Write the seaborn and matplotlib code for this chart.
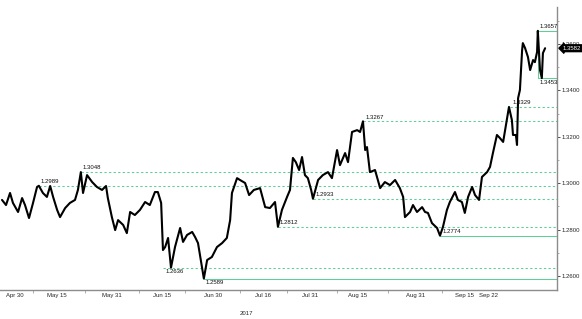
import numpy as np
import pandas as pd
import matplotlib
matplotlib.use("Agg")
import matplotlib.pyplot as plt
import seaborn as sns

# ---- data (x in days from series start) ----
day = [0.0, 1.1, 2.2, 3.0, 4.4, 5.5, 6.3, 7.4, 8.5, 9.6, 10.1, 11.2, 12.3, 13.2, 14.0,
       15.1, 15.9, 17.3, 18.6, 20.0, 20.8, 21.6, 22.2, 23.3, 24.7, 26.0, 27.4, 28.5, 29.0,
       30.1, 31.0, 31.8, 33.2, 34.2, 35.1, 36.4, 37.8, 39.2, 40.5, 41.9, 42.7, 43.6, 44.1,
       44.7, 45.5, 46.3, 47.4, 48.8, 49.6, 50.7, 52.1, 52.9, 53.7, 54.8, 55.3, 56.2, 57.5,
       58.9, 60.3, 61.6, 62.5, 63.0, 64.4, 65.2, 66.6, 67.7, 69.0, 70.7, 72.1, 73.4, 74.8,
       75.6, 76.7, 78.1, 78.9, 79.7, 80.5, 81.4, 82.2, 83.0, 83.8, 84.7, 85.2, 86.6, 87.9,
       89.3, 90.4, 91.8, 92.6, 94.0, 94.8, 95.9, 97.3, 98.1, 98.9, 99.5, 100.0, 100.8,
       102.2, 103.6, 104.9, 106.3, 107.7, 109.0, 109.9, 110.4, 111.8, 112.6, 113.7, 115.1,
       115.9, 116.7, 117.8, 119.2, 120.0, 120.8, 121.9, 122.7, 124.1, 124.9, 126.0, 126.8,
       127.7, 128.8, 129.6, 130.7, 131.5, 132.9, 133.7, 134.5, 135.6, 136.4, 137.3, 138.4,
       138.9, 139.7, 140.0, 140.8, 141.1, 141.4, 141.9, 142.5, 142.7, 143.3, 144.1, 144.7,
       145.5, 146.0, 146.6, 146.8, 147.4, 147.9, 148.2, 148.8]
price = [1.2928, 1.2906, 1.2958, 1.2915, 1.2876, 1.2936, 1.2906, 1.2850, 1.2915, 1.2984,
         1.2989, 1.2958, 1.2941, 1.2988, 1.2941, 1.2885, 1.2854, 1.2893, 1.2915, 1.2928,
         1.2971, 1.3048, 1.2958, 1.3035, 1.3005, 1.2984, 1.2971, 1.2988, 1.2936, 1.2854,
         1.2798, 1.2841, 1.2820, 1.2785, 1.2876, 1.2863, 1.2885, 1.2919, 1.2906, 1.2962,
         1.2962, 1.2915, 1.2712, 1.2725, 1.2764, 1.2636, 1.2725, 1.2807, 1.2747, 1.2777,
         1.2790, 1.2768, 1.2742, 1.2635, 1.2589, 1.2669, 1.2682, 1.2725, 1.2742, 1.2764,
         1.2841, 1.2958, 1.3022, 1.3014, 1.3001, 1.2949, 1.2971, 1.2979, 1.2897, 1.2893,
         1.2919, 1.2812, 1.2885, 1.2941, 1.2971, 1.3109, 1.3091, 1.3057, 1.3113, 1.3035,
         1.3022, 1.2971, 1.2933, 1.3014, 1.3035, 1.3048, 1.3022, 1.3143, 1.3078, 1.3130,
         1.3091, 1.3221, 1.3229, 1.3221, 1.3267, 1.3143, 1.3156, 1.3048, 1.3057, 1.2979,
         1.3005, 1.2992, 1.3014, 1.2979, 1.2941, 1.2854, 1.2876, 1.2906, 1.2876, 1.2897,
         1.2876, 1.2872, 1.2828, 1.2807, 1.2774, 1.2811, 1.2885, 1.2919, 1.2962, 1.2928,
         1.2919, 1.2872, 1.2941, 1.2984, 1.2949, 1.2928, 1.3027, 1.3048, 1.3070, 1.3130,
         1.3208, 1.3195, 1.3178, 1.3281, 1.3329, 1.3272, 1.3208, 1.3208, 1.3165, 1.3367,
         1.3402, 1.3574, 1.3604, 1.3583, 1.3544, 1.3488, 1.3531, 1.3522, 1.3566, 1.3657,
         1.3488, 1.3453, 1.3561, 1.3582]

level_value = [1.2989, 1.3048, 1.2636, 1.2589, 1.2812, 1.2933, 1.3267, 1.2774, 1.3329, 1.3657, 1.3453]
level_label = ["1.2989", "1.3048", "1.2636", "1.2589", "1.2812", "1.2933", "1.3267", "1.2774", "1.3329", "1.3657", "1.3453"]
level_day = [10.1, 21.6, 44.1, 55.3, 75.6, 85.2, 98.9, 120.0, 139.2, 146.8, 146.8]
level_style = ["dash", "dash", "dash", "solid", "dash", "dash", "dash", "solid", "dash", "solid", "solid"]
level_side = ["above", "above", "below", "below", "above", "above", "above", "above", "above", "above", "below"]

x_tick_labels = ["Apr 30", "May 15", "May 31", "Jun 15", "Jun 30", "Jul 16", "Jul 31",
                 "Aug 15", "Aug 31", "Sep 15", "Sep 22"]
x_label_pos = [3.6, 15.1, 30.1, 43.8, 57.8, 71.5, 84.4, 97.3, 113.2, 126.8, 133.2]
x_boundary_pos = [8.5, 22.7, 37.5, 50.1, 65.2, 78.1, 91.8, 105.8, 120.5, 133.2]
y_ticks = [1.26, 1.28, 1.30, 1.32, 1.34, 1.36]
last_price = 1.3582
year_label = "2017"

# ---- style ----
sns.set_style("white")
plt.rcParams["font.family"] = ["Liberation Sans", "DejaVu Sans"]

GREEN = "#5fcf98"
AXIS = "#8c8c8c"
FS = 4.3

fig = plt.figure(figsize=(5.82, 3.19), dpi=100)
ax = fig.add_axes([0.0, 0.0909, 0.957, 0.887])

df = pd.DataFrame({"day": day, "price": price})
sns.lineplot(data=df, x="day", y="price", ax=ax, color="black", lw=1.5, zorder=3)

x_max = 152.05
for v, lab, d, st, side in zip(level_value, level_label, level_day, level_style, level_side):
    ls = (0, (2.2, 2.2)) if st == "dash" else "-"
    ax.plot([d, x_max], [v, v], color=GREEN, lw=0.75, ls=ls, zorder=2)
    off = 1.2 if side == "above" else -1.2
    va = "bottom" if side == "above" else "top"
    ax.annotate(lab, xy=(d, v), xytext=(1.5, off), textcoords="offset points",
                fontsize=FS, va=va, ha="left", color="#111111", zorder=4)

# connector between the two latest extremes
ax.plot([level_day[-1], level_day[-1]], [level_value[-1], level_value[-2]], color=GREEN, lw=0.75)

ax.set_xlim(-0.55, x_max)
ax.set_ylim(1.25397, 1.37595)

# y axis on the right
ax.yaxis.tick_right()
ax.set_yticks(y_ticks)
ax.set_yticklabels([f"{t:.4f}" for t in y_ticks])
ax.set_yticks([t + 0.01 for t in y_ticks[:-1]] + [1.37], minor=True)
ax.tick_params(axis="y", which="major", labelsize=FS, length=2, width=0.6, color="#333333",
               pad=1, right=True, left=False)
ax.tick_params(axis="y", which="minor", length=1.5, width=0.5, color=AXIS, right=True, left=False)

# x axis: boundary ticks + centred period labels
ax.set_xticks(x_boundary_pos, minor=True)
ax.set_xticks(x_label_pos)
ax.set_xticklabels(x_tick_labels)
ax.tick_params(axis="x", which="major", length=0, labelsize=FS, pad=2)
ax.tick_params(axis="x", which="minor", length=2, width=0.5, color=AXIS, bottom=True)

for s in ["top", "left"]:
    ax.spines[s].set_visible(False)
for s in ["bottom", "right"]:
    ax.spines[s].set_color(AXIS)
    ax.spines[s].set_linewidth(1.0)

ax.set_xlabel("")
ax.set_ylabel("")
ax.grid(False)

ax.text(0.443, -0.075, year_label, transform=ax.transAxes, fontsize=FS, ha="center", va="top")

# last price tag
ax.annotate(f"{last_price:.4f}", xy=(1.0, last_price), xycoords=("axes fraction", "data"),
            xytext=(4, 0), textcoords="offset points", fontsize=FS, color="white",
            va="center", ha="left", annotation_clip=False,
            bbox=dict(boxstyle="larrow,pad=0.15", fc="black", ec="black"))

fig.savefig("out.png", dpi=100)
